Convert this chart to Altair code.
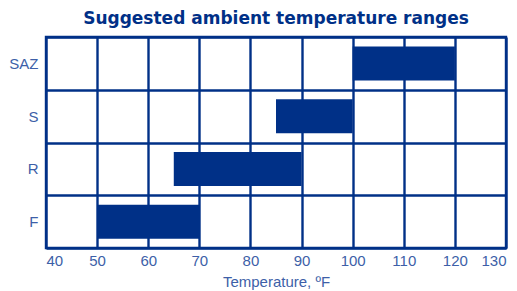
import altair as alt
import pandas as pd

categories = ["SAZ", "S", "R", "F"]
low_f = [100, 85, 65, 50]
high_f = [120, 100, 90, 70]
x_ticks = [40, 50, 60, 70, 80, 90, 100, 110, 120, 130]

df = pd.DataFrame({"cat": categories, "low": low_f, "high": high_f})

DARK = "#003087"
TEXT = "#3d5fa8"

chart = alt.Chart(df).mark_bar(color=DARK, size=34).encode(
    x=alt.X("low:Q", scale=alt.Scale(domain=[40, 130], nice=False, zero=False),
            axis=alt.Axis(values=x_ticks, title="Temperature, ºF", grid=True,
                          gridColor=DARK, gridWidth=2.4, gridOpacity=1,
                          domain=False, ticks=False, labelPadding=5,
                          labelColor=TEXT, labelFontSize=15, labelFont="Liberation Sans",
                          titleColor=TEXT, titleFontSize=15, titleFont="Liberation Sans",
                          titleFontWeight="normal", titlePadding=6)),
    x2="high:Q",
    y=alt.Y("cat:N", sort=categories,
            scale=alt.Scale(paddingInner=0, paddingOuter=0),
            axis=alt.Axis(title=None, grid=True, tickBand="extent",
                          gridColor=DARK, gridWidth=2.4, gridOpacity=1,
                          domain=False, ticks=False, labelPadding=8,
                          labelColor=TEXT, labelFontSize=15, labelFont="Liberation Sans")),
).properties(
    width=460,
    height=211,
    title=alt.TitleParams("Suggested ambient temperature ranges", font="DejaVu Sans",
                          fontSize=17, fontWeight="bold", color=DARK,
                          anchor="middle", offset=2),
    autosize=alt.AutoSizeParams(type="none"),
    padding={"left": 38, "top": 29, "right": 3, "bottom": 43},
).configure_view(stroke=DARK, strokeWidth=2.4)

chart.save("out.html", embed_options={"renderer": "svg", "actions": False})
